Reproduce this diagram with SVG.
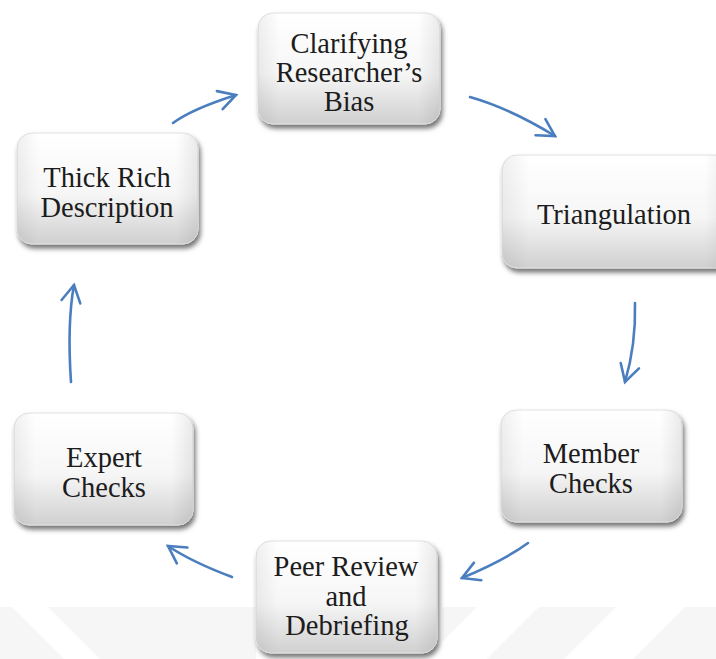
<svg xmlns="http://www.w3.org/2000/svg" width="716" height="659" viewBox="0 0 716 659">
  <defs>
    <linearGradient id="boxFill" x1="0" y1="0" x2="0" y2="1">
      <stop offset="0" stop-color="#ffffff"/>
      <stop offset="0.55" stop-color="#f6f6f6"/>
      <stop offset="1" stop-color="#d0d0d0"/>
    </linearGradient>
    <linearGradient id="edgeShade" x1="0" y1="0" x2="1" y2="0">
      <stop offset="0" stop-color="#000" stop-opacity="0.06"/>
      <stop offset="0.12" stop-color="#000" stop-opacity="0"/>
      <stop offset="0.88" stop-color="#000" stop-opacity="0"/>
      <stop offset="1" stop-color="#000" stop-opacity="0.08"/>
    </linearGradient>
    <filter id="shadow" x="-10%" y="-10%" width="125%" height="130%">
      <feDropShadow dx="2" dy="4" stdDeviation="2.8" flood-color="#000" flood-opacity="0.55"/>
    </filter>
    <marker id="openHead" markerUnits="userSpaceOnUse" markerWidth="30" markerHeight="30" refX="0" refY="0" viewBox="-22 -15 26 30" orient="auto">
      <path d="M-17,-9.5 L0,0 L-17,9.5" fill="none" stroke="#4a7ebf" stroke-width="2.6" stroke-linecap="round" stroke-linejoin="miter"/>
    </marker>
  </defs>
  <style>
    .box { fill: url(#boxFill); stroke: #e2e2e2; stroke-width: 1; filter: url(#shadow); }
    .shade { fill: url(#edgeShade); }
    .label { font-family: "Liberation Serif", "Times New Roman", serif; font-size: 28.5px; fill: #1c1c1c; text-anchor: middle; }
    .conn { fill: none; stroke: #4a7ebf; stroke-width: 2.6; stroke-linecap: round; marker-end: url(#openHead); }
    .wm { fill: #f6f6f6; }
  </style>

  <rect width="716" height="659" fill="#ffffff"/>

  <!-- faint background bands along the bottom -->
  <g id="background-bands">
    <polygon class="wm" points="0,607 12,607 64,659 0,659"/>
    <polygon class="wm" points="48,607 256,607 256,659 100,659"/>
    <polygon class="wm" points="442,607 477,607 442,642"/>
    <polygon class="wm" points="539,607 616,607 564,659 487,659"/>
    <polygon class="wm" points="685,607 716,607 716,659 633,659"/>
  </g>

  <!-- connectors -->
  <g id="connectors">
    <path class="conn" d="M173,123 Q192,109 236,95"/>
    <path class="conn" d="M470,97 Q509,108 555,136"/>
    <path class="conn" d="M635,303 Q636,345 625,382"/>
    <path class="conn" d="M528,543 Q505,560 462,578"/>
    <path class="conn" d="M232,577 Q192,562 168,546"/>
    <path class="conn" d="M71,382 Q67,323 74,285"/>
  </g>

  <g id="node-clarifying">
    <rect class="box" x="258" y="13" width="182" height="111" rx="15"/>
    <rect class="shade" x="258" y="13" width="182" height="111" rx="15"/>
    <text class="label" x="349" y="53">Clarifying</text>
    <text class="label" x="349" y="82">Researcher’s</text>
    <text class="label" x="349" y="111">Bias</text>
  </g>

  <g id="node-triangulation">
    <rect class="box" x="502" y="155" width="230" height="113" rx="15"/>
    <rect class="shade" x="502" y="155" width="230" height="113" rx="15"/>
    <text class="label" x="614" y="224">Triangulation</text>
  </g>

  <g id="node-member-checks">
    <rect class="box" x="501" y="410" width="181" height="112" rx="15"/>
    <rect class="shade" x="501" y="410" width="181" height="112" rx="15"/>
    <text class="label" x="591" y="463">Member</text>
    <text class="label" x="591" y="493">Checks</text>
  </g>

  <g id="node-peer-review">
    <rect class="box" x="256" y="541" width="181" height="112" rx="15"/>
    <rect class="shade" x="256" y="541" width="181" height="112" rx="15"/>
    <text class="label" x="346" y="576">Peer Review</text>
    <text class="label" x="346" y="606">and</text>
    <text class="label" x="347" y="635">Debriefing</text>
  </g>

  <g id="node-expert-checks">
    <rect class="box" x="14" y="413" width="179" height="112" rx="15"/>
    <rect class="shade" x="14" y="413" width="179" height="112" rx="15"/>
    <text class="label" x="104" y="467">Expert</text>
    <text class="label" x="104" y="497">Checks</text>
  </g>

  <g id="node-thick-rich">
    <rect class="box" x="17" y="133" width="181" height="111" rx="15"/>
    <rect class="shade" x="17" y="133" width="181" height="111" rx="15"/>
    <text class="label" x="107" y="187">Thick Rich</text>
    <text class="label" x="107" y="217">Description</text>
  </g>
</svg>
